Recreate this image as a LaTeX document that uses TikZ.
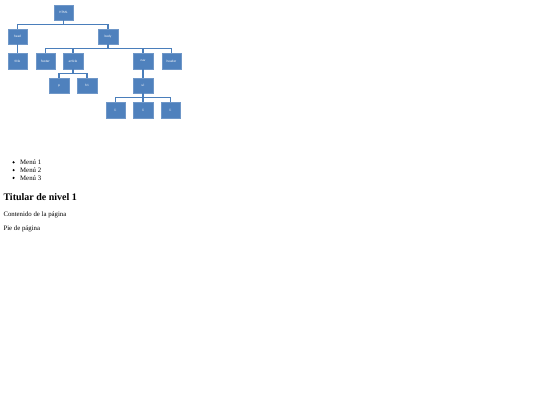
\documentclass[tikz,border=0pt]{standalone}
\usepackage{fontspec}
\setmainfont{Liberation Serif}
\newfontfamily\boxfont{Carlito}
\definecolor{boxfill}{HTML}{4F81BD}
\definecolor{boxline}{HTML}{6F97C8}
\definecolor{conn}{HTML}{4A7EBB}
\begin{document}
\begin{tikzpicture}[x=1pt,y=-1pt,
  tbox/.style={draw=boxline,line width=0.4pt,fill=boxfill,minimum width=19.5pt,minimum height=15.5pt,inner sep=0pt,text=white,font=\boxfont\fontsize{3.4}{4}\selectfont},
  link/.style={draw=conn,line width=1.1pt},
  body/.style={anchor=base west,inner sep=0pt,font=\fontsize{6.8}{8}\selectfont},
  bul/.style={fill=black,circle,inner sep=0pt,minimum size=2.4pt}]
\useasboundingbox (0,0) rectangle (540,405);
% tree nodes
\node[tbox] (html) at (63.5,12.5) {HTML};
\node[tbox] (head) at (17.5,36.5) {head};
\node[tbox] (bodyn) at (108,36.5) {body};
\node[tbox] (title) at (17.5,61) {title};
\node[tbox] (footer) at (45.5,61) {footer};
\node[tbox] (article) at (73,61) {article};
\node[tbox] (nav) at (143,61) {nav};
\node[tbox] (header) at (171.5,61) {header};
\node[tbox] (p) at (59,85.5) {p};
\node[tbox] (h1) at (87,85.5) {h1};
\node[tbox] (ul) at (143,85.5) {ul};
\node[tbox] (li1) at (115.5,110) {li};
\node[tbox] (li2) at (143,110) {li};
\node[tbox] (li3) at (170.5,110) {li};
% bus levels
\coordinate (busA) at (0,24.3);
\coordinate (busB) at (0,48.5);
\coordinate (busC) at (0,73.2);
\coordinate (busD) at (0,97.4);
% connectors
\draw[link] (html.south) -- (html.south |- busA) -| (head.north);
\draw[link] (html.south |- busA) -| (bodyn.north);
\draw[link] (head.south) -- (title.north);
\draw[link] (bodyn.south) -- (bodyn.south |- busB) -| (footer.north);
\draw[link] (bodyn.south |- busB) -| (header.north);
\draw[link] (article.north |- busB) -- (article.north);
\draw[link] (nav.north |- busB) -- (nav.north);
\draw[link] (article.south) -- (article.south |- busC) -| (p.north);
\draw[link] (article.south |- busC) -| (h1.north);
\draw[link] (nav.south) -- (ul.north);
\draw[link] (ul.south) -- (ul.south |- busD) -| (li1.north);
\draw[link] (ul.south |- busD) -| (li3.north);
\draw[link] (li2.north |- busD) -- (li2.north);
% page text
\node[bul] (b1) at (13.6,162.3) {};
\node[bul] (b2) at (13.6,170.1) {};
\node[bul] (b3) at (13.6,177.9) {};
\node[body] (m1) at (20,164.6) {Menú 1};
\node[body] (m2) at (20,172.4) {Menú 2};
\node[body] (m3) at (20,180.2) {Menú 3};
\node[body,font=\bfseries\fontsize{10}{12}\selectfont] (t) at (3.3,200) {Titular de nivel 1};
\node[body] (c) at (3.3,216.6) {Contenido de la página};
\node[body] (pie) at (3.3,230.6) {Pie de página};
\end{tikzpicture}
\end{document}
